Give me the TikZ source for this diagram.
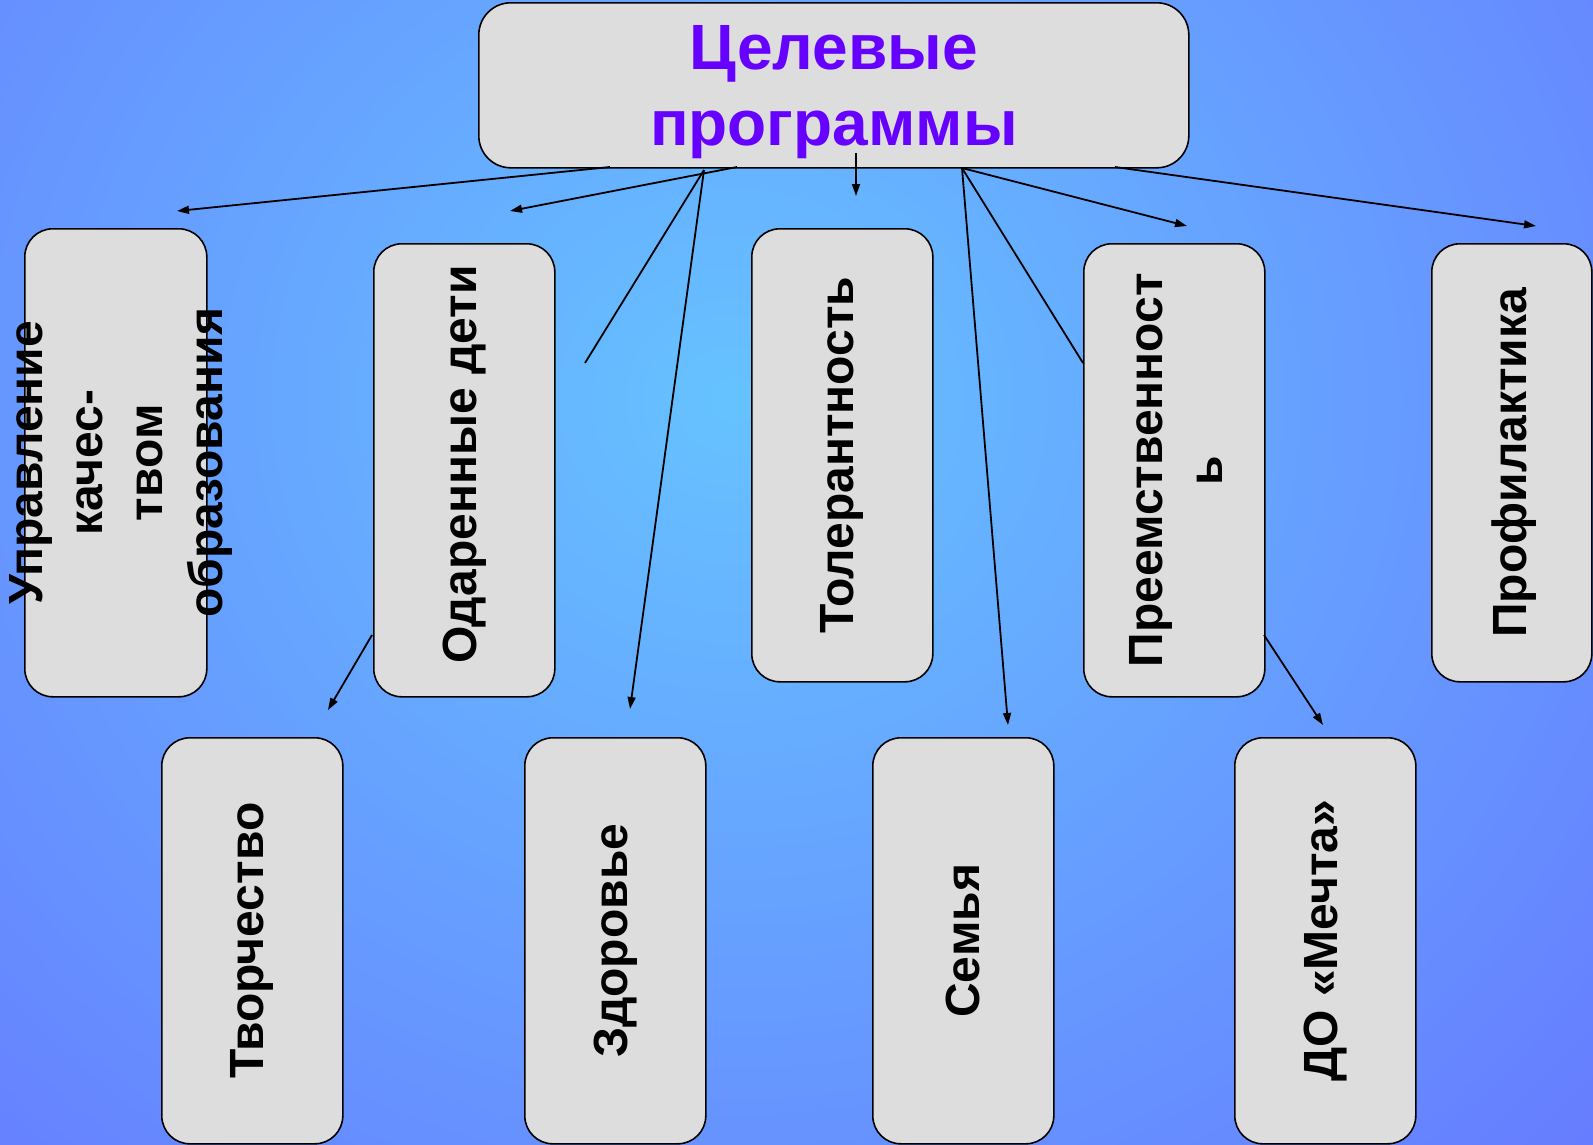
\documentclass[tikz,border=0pt]{standalone}
\usepackage{fontspec}
\setmainfont{Liberation Sans}
\usetikzlibrary{arrows.meta}
\definecolor{bgin}{RGB}{102,194,255}
\definecolor{bgout}{RGB}{102,108,255}
\definecolor{boxgray}{RGB}{221,221,221}
\definecolor{titlepurple}{RGB}{102,0,255}
\tikzset{
  box/.style={draw=black, line width=1.6pt, fill=boxgray, rounded corners=28pt, inner sep=0pt, anchor=north west},
  lbl/.style={rotate=90, align=center, font=\bfseries\fontsize{48}{60}\selectfont, inner sep=0pt},
  conn/.style={line width=1.8pt, -{Triangle[length=12pt,width=8pt]}},
  plainline/.style={line width=1.8pt},
}
\begin{document}
\begin{tikzpicture}[x=1pt,y=-1pt]
\useasboundingbox (0,0) rectangle (1593,1144);
\begin{scope}
  \clip (0,0) rectangle (1593,1144);
  \shade[inner color=bgin, outer color=bgout] (735-1450,400-1350) rectangle (735+1450,400+1350);
\end{scope}

% top box
\node[box, rounded corners=32pt, minimum width=710pt, minimum height=165pt] (top) at (478,2) {};
\node[font=\bfseries\fontsize{64}{76}\selectfont, text=titlepurple, align=center, inner sep=0pt] (title) at ([yshift=-7pt]top.center) {Целевые\\программы};

% upper row
\node[box, minimum width=182pt, minimum height=468pt] (b1) at (24,228) {};
\node[box, minimum width=181pt, minimum height=453pt] (b2) at (373,243) {};
\node[box, minimum width=181pt, minimum height=453pt] (b3) at (751,228) {};
\node[box, minimum width=181pt, minimum height=453pt] (b4) at (1083,243) {};
\node[box, minimum width=160pt, minimum height=438pt] (b5) at (1431,243) {};

% lower row
\node[box, minimum width=181pt, minimum height=406pt] (c1) at (161,737) {};
\node[box, minimum width=181pt, minimum height=406pt] (c2) at (524,737) {};
\node[box, minimum width=181pt, minimum height=406pt] (c3) at (872,737) {};
\node[box, minimum width=181pt, minimum height=406pt] (c4) at (1234,737) {};

% labels
\node[lbl] (t1) at ([xshift=5pt]b1.center) {Управление\\качес-\\твом\\образования};
\node[lbl] (t2) at ([yshift=6pt]b2.center) {Одаренные дети};
\node[lbl] (t3) at (b3.center) {Толерантность};
\node[lbl] (t4) at ([xshift=2pt]b4.center) {Преемственност\\ь};
\node[lbl] (t5) at ([xshift=2pt]b5.center) {Профилактика};
\node[lbl] (u1) at (c1.center) {Творчество};
\node[lbl] (u2) at (c2.center) {Здоровье};
\node[lbl] (u3) at (c3.center) {Семья};
\node[lbl] (u4) at (c4.center) {ДО «Мечта»};

% connector coordinates
\coordinate (sA) at (610,167);
\coordinate (eA) at (177,211);
\coordinate (sB) at (737,167);
\coordinate (eB) at (510,211);
\coordinate (sC) at (704,170);
\coordinate (eC) at (585,363);
\coordinate (eD) at (630,709);
\coordinate (sE) at (856,153);
\coordinate (eE) at (856,196);
\coordinate (sF) at (962,168);
\coordinate (eF) at (1008,725);
\coordinate (eG) at (1083,363);
\coordinate (eH) at (1187,226);
\coordinate (sI) at (1115,167);
\coordinate (eI) at (1536,226);
\coordinate (sJ) at (372,635);
\coordinate (eJ) at (328,710);
\coordinate (sK) at (1264,635);
\coordinate (eK) at (1323,725);

\draw[conn] (sA) -- (eA);
\draw[conn] (sB) -- (eB);
\draw[plainline] (sC) -- (eC);
\draw[conn] (sC) -- (eD);
\draw[conn] (sE) -- (eE);
\draw[conn] (sF) -- (eF);
\draw[plainline] (sF) -- (eG);
\draw[conn] (sF) -- (eH);
\draw[conn] (sI) -- (eI);
\draw[conn] (sJ) -- (eJ);
\draw[conn] (sK) -- (eK);
\end{tikzpicture}
\end{document}
